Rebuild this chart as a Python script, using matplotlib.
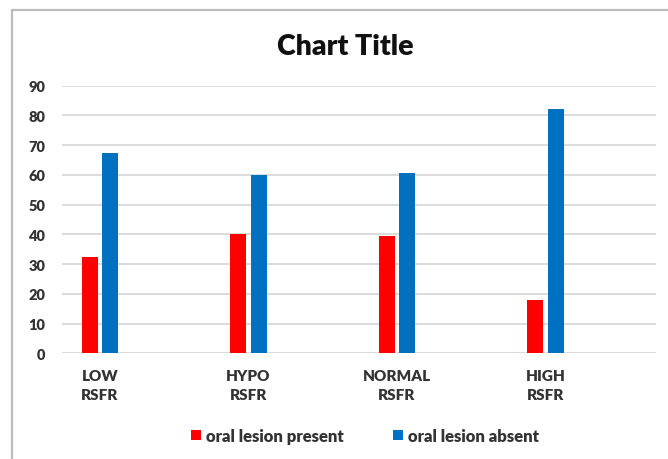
import matplotlib
matplotlib.use('Agg')
import matplotlib.pyplot as plt
import numpy as np
from matplotlib.patches import Rectangle

plt.rcParams['font.family'] = ['Lato', 'DejaVu Sans']

# chart data
categories = ['LOW\nRSFR', 'HYPO\nRSFR', 'NORMAL\nRSFR', 'HIGH\nRSFR']
present = [32.5, 40, 39.5, 18]
absent = [67.5, 60, 60.5, 82]
series_names = ['oral lesion present', 'oral lesion absent']

red = '#ff0000'
blue = '#0070c0'
text_col = '#333333'

fig = plt.figure(figsize=(6.68, 4.6), dpi=100)
ax = fig.add_axes([62 / 668, 1 - 354.3 / 460, 594 / 668, 267.6 / 460])

x = np.arange(len(categories))
w = 0.108
off = 0.069
ax.bar(x - off, present, w, color=red, label=series_names[0], zorder=3)
ax.bar(x + off, absent, w, color=blue, label=series_names[1], zorder=3)

ax.set_xlim(-0.256, 3.744)
ax.set_ylim(0, 90)
ax.set_yticks(np.arange(0, 91, 10))
ax.yaxis.grid(True, color='#d9d9d9', lw=1.3, zorder=0)
ax.set_axisbelow(True)
for s in ax.spines.values():
    s.set_visible(False)

ax.set_xticks(x)
ax.set_xticklabels(categories, linespacing=1.55, fontweight='heavy', fontsize=11, color=text_col)
ax.tick_params(axis='x', length=0, pad=11)
ax.tick_params(axis='y', length=0, pad=12, labelsize=10.5, labelcolor=text_col)
for t in ax.get_yticklabels():
    t.set_fontweight('heavy')

fig.text(345 / 668, 1 - 47 / 460, 'Chart Title', ha='center', va='center',
         fontsize=20.5, fontweight='heavy', color='#111111')

leg = fig.legend(loc='center', bbox_to_anchor=(365 / 668, 1 - 437 / 460), ncol=2, frameon=False,
                 handlelength=0.6, handleheight=0.6, handletextpad=0.3, columnspacing=2.9,
                 prop={'weight': 'heavy', 'size': 12})
for t in leg.get_texts():
    t.set_color(text_col)

# chart area border (runs off the right and bottom edges)
fig.add_artist(Rectangle((12 / 668, -0.2), 1.2, 1.2 - 11 / 460, transform=fig.transFigure,
                         fill=False, ec='#bcbcbc', lw=1.6))

fig.savefig('out.png', dpi=100)
